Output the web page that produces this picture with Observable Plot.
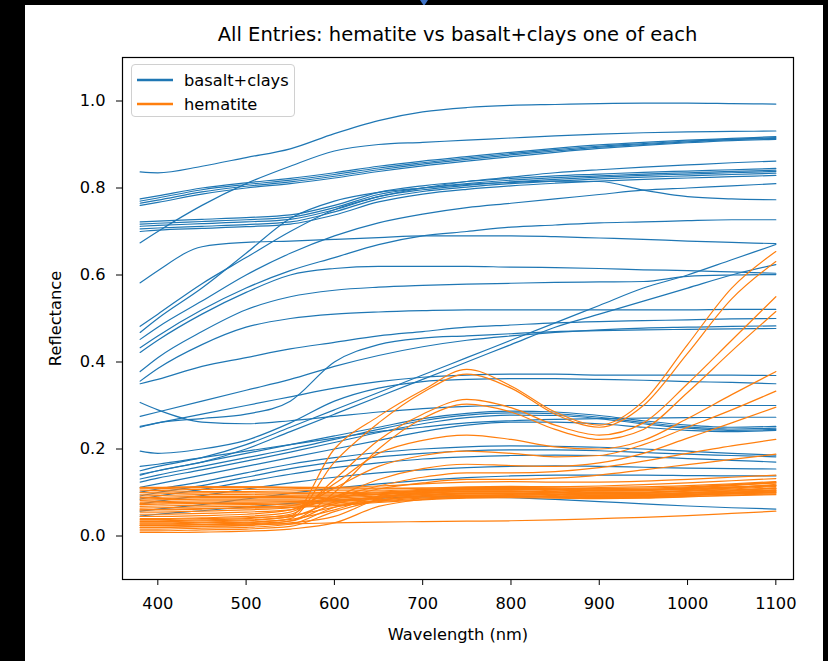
<!DOCTYPE html>
<html>
<head>
<meta charset="utf-8">
<script src="https://cdn.jsdelivr.net/npm/d3@7"></script>
<script src="https://cdn.jsdelivr.net/npm/@observablehq/plot@0.6"></script>
<style>
  html, body { margin: 0; padding: 0; background: #000; }
  body { width: 828px; height: 661px; position: relative; overflow: hidden; font-family: "DejaVu Sans", sans-serif; }
  #fig { position: absolute; left: 25px; top: 5px; width: 798px; height: 656px; background: #fff; overflow: hidden; }
  #title { position: absolute; left: 0; top: 18px; width: 865px; text-align: center; font-size: 19.5px; line-height: 24px; color: #000; }
  #chart { position: absolute; left: 0; top: 40px; }
  #legend { position: absolute; left: 106px; top: 59px; width: 164px; height: 53px; box-sizing: border-box;
            border: 1px solid #d0d0d0; border-radius: 4px; background: rgba(255,255,255,0.8); }
  .entry { position: absolute; left: 5px; height: 20px; display: flex; align-items: center; font-size: 16.25px; color: #000; white-space: nowrap; }
  .entry svg { margin-right: 11px; }
  #marker { position: absolute; left: 420px; top: 0; width: 0; height: 0;
            border-left: 4px solid transparent; border-right: 4px solid transparent; border-top: 6px solid #3f73c6; }
</style>
</head>
<body>
<div id="marker"></div>
<div id="fig">
  <div id="title">All Entries: hematite vs basalt+clays one of each</div>
  <div id="chart"></div>
  <div id="legend"></div>
</div>
<script>
// Wavelength grid (nm) shared by every spectrum
const wavelengths = [380, 400, 450, 500, 550, 600, 650, 700, 750, 800, 850, 900, 950, 1000, 1050, 1100];

// Series names and their colours
const seriesNames = ["basalt+clays", "hematite"];
const seriesColors = ["#1f77b4", "#ff7f0e"];

// Axis ticks
const xTicks = [400, 500, 600, 700, 800, 900, 1000, 1100];
const yTicks = [0.0, 0.2, 0.4, 0.6, 0.8, 1.0];

// Reflectance spectra of basalt + clay mixtures
const basaltClays = [
  [.837,.835,.850,.870,.890,.925,.955,.975,.985,.990,.992,.994,.995,.995,.994,.993],
  [.674,.700,.760,.810,.850,.885,.900,.905,.910,.915,.920,.924,.927,.929,.930,.931],
  [.775,.782,.800,.812,.822,.835,.850,.862,.872,.882,.891,.899,.905,.910,.914,.918],
  [.770,.777,.796,.808,.818,.831,.846,.858,.869,.879,.888,.896,.902,.908,.912,.916],
  [.765,.772,.791,.804,.814,.827,.842,.855,.866,.876,.885,.894,.900,.906,.911,.914],
  [.760,.767,.786,.800,.810,.823,.838,.851,.862,.872,.882,.891,.898,.904,.909,.912],
  [.722,.724,.728,.732,.738,.760,.790,.805,.815,.822,.828,.832,.836,.839,.842,.845],
  [.717,.719,.723,.727,.733,.755,.785,.800,.810,.818,.824,.828,.832,.835,.838,.841],
  [.712,.714,.718,.722,.728,.750,.780,.796,.806,.814,.820,.825,.829,.832,.835,.838],
  [.706,.708,.712,.716,.722,.745,.775,.792,.802,.810,.816,.821,.825,.828,.831,.834],
  [.700,.703,.707,.711,.717,.738,.768,.786,.797,.805,.811,.816,.820,.823,.826,.829],
  [.482,.510,.580,.640,.700,.750,.780,.800,.815,.825,.835,.842,.848,.853,.858,.862],
  [.468,.500,.570,.650,.730,.770,.790,.800,.808,.813,.816,.815,.795,.780,.775,.773],
  [.452,.480,.540,.600,.650,.690,.720,.740,.755,.765,.775,.785,.795,.800,.805,.810],
  [.433,.460,.520,.570,.610,.640,.670,.690,.700,.710,.715,.720,.722,.725,.727,.727],
  [.422,.450,.510,.560,.600,.615,.620,.620,.620,.618,.617,.615,.612,.610,.607,.604],
  [.378,.410,.470,.520,.550,.565,.572,.576,.579,.581,.583,.584,.585,.597,.600,.601],
  [.356,.385,.440,.480,.500,.510,.515,.518,.520,.520,.520,.520,.520,.520,.521,.521],
  [.582,.610,.665,.675,.678,.682,.686,.690,.690,.690,.688,.685,.682,.678,.675,.672],
  [.150,.160,.180,.210,.250,.290,.330,.370,.410,.450,.490,.530,.570,.600,.635,.670],
  [.140,.150,.170,.200,.240,.280,.320,.360,.400,.440,.480,.510,.540,.570,.600,.624],
  [.250,.260,.270,.280,.310,.400,.440,.455,.460,.465,.470,.472,.474,.475,.476,.477],
  [.252,.260,.280,.300,.320,.340,.355,.365,.370,.372,.372,.370,.370,.370,.370,.369],
  [.307,.290,.262,.258,.265,.275,.285,.293,.298,.300,.300,.300,.300,.300,.300,.300],
  [.195,.190,.200,.220,.260,.310,.340,.355,.360,.362,.362,.360,.358,.355,.353,.350],
  [.142,.150,.170,.190,.210,.230,.250,.270,.282,.287,.285,.277,.265,.255,.250,.252],
  [.131,.140,.160,.180,.200,.222,.245,.265,.278,.283,.281,.273,.261,.251,.246,.248],
  [.124,.133,.152,.172,.193,.215,.238,.258,.272,.278,.277,.270,.258,.248,.243,.245],
  [.112,.120,.140,.160,.180,.200,.220,.240,.255,.262,.262,.258,.250,.243,.240,.243],
  [.101,.108,.125,.145,.165,.180,.192,.200,.205,.207,.206,.204,.200,.195,.190,.186],
  [.092,.100,.116,.135,.155,.170,.182,.190,.196,.198,.198,.196,.192,.188,.185,.182],
  [.085,.092,.107,.125,.142,.157,.168,.177,.182,.185,.186,.185,.182,.178,.174,.170],
  [.073,.080,.093,.108,.122,.135,.145,.152,.157,.160,.161,.160,.158,.156,.155,.154],
  [.057,.062,.072,.085,.098,.110,.120,.128,.134,.138,.140,.140,.140,.139,.138,.138],
  [.046,.050,.058,.067,.075,.082,.087,.090,.090,.088,.084,.079,.074,.069,.065,.062],
  [.350,.360,.390,.410,.430,.445,.460,.470,.480,.485,.490,.493,.495,.497,.499,.500],
  [.160,.165,.180,.195,.210,.225,.240,.250,.260,.265,.268,.270,.271,.272,.273,.273],
  [.275,.285,.310,.335,.360,.390,.415,.435,.450,.460,.468,.474,.478,.480,.482,.483]
];

// Reflectance spectra of hematite samples
const hematite = [
  [.030,.030,.032,.035,.045,.200,.275,.335,.383,.345,.285,.255,.310,.440,.570,.654],
  [.025,.025,.027,.030,.040,.170,.260,.330,.372,.340,.280,.250,.300,.420,.545,.631],
  [.035,.035,.037,.040,.050,.130,.220,.280,.314,.295,.255,.232,.260,.350,.450,.550],
  [.020,.020,.022,.025,.035,.100,.200,.270,.303,.285,.245,.222,.245,.330,.425,.516],
  [.040,.040,.042,.045,.055,.120,.190,.220,.232,.222,.205,.200,.220,.270,.325,.378],
  [.045,.045,.047,.050,.060,.110,.160,.185,.195,.190,.182,.185,.210,.250,.290,.333],
  [.050,.050,.052,.055,.060,.090,.130,.155,.165,.162,.160,.168,.190,.225,.260,.296],
  [.060,.060,.062,.065,.070,.090,.115,.135,.145,.145,.148,.157,.172,.190,.207,.222],
  [.055,.055,.057,.060,.065,.085,.108,.122,.130,.130,.133,.140,.152,.164,.176,.188],
  [.112,.112,.113,.113,.112,.111,.110,.110,.111,.112,.113,.115,.118,.122,.127,.132],
  [.108,.109,.111,.111,.110,.108,.108,.110,.113,.114,.113,.112,.113,.116,.120,.125],
  [.104,.105,.107,.107,.106,.104,.104,.107,.110,.111,.110,.109,.110,.113,.118,.122],
  [.100,.101,.102,.102,.101,.100,.101,.105,.109,.110,.108,.106,.107,.109,.113,.117],
  [.096,.097,.099,.099,.098,.097,.099,.104,.108,.109,.107,.104,.105,.108,.112,.116],
  [.092,.093,.095,.095,.094,.094,.097,.103,.107,.108,.106,.103,.104,.107,.111,.119],
  [.088,.089,.091,.091,.091,.092,.096,.102,.106,.107,.104,.101,.101,.103,.106,.110],
  [.085,.086,.088,.088,.088,.090,.095,.100,.104,.104,.101,.098,.098,.100,.103,.106],
  [.082,.083,.085,.085,.085,.087,.092,.098,.102,.102,.099,.096,.096,.098,.101,.104],
  [.078,.079,.081,.081,.081,.084,.089,.095,.099,.099,.097,.094,.094,.096,.099,.102],
  [.075,.076,.078,.078,.079,.082,.087,.093,.097,.097,.095,.092,.093,.095,.098,.100],
  [.072,.073,.075,.075,.076,.079,.084,.090,.094,.095,.093,.091,.092,.094,.097,.099],
  [.068,.069,.071,.072,.073,.076,.081,.087,.091,.092,.091,.089,.090,.093,.097,.101],
  [.064,.065,.067,.068,.069,.073,.079,.085,.089,.090,.089,.087,.088,.091,.094,.097],
  [.060,.061,.063,.064,.066,.070,.077,.083,.087,.088,.087,.086,.087,.090,.093,.095],
  [.110,.111,.113,.113,.112,.112,.115,.120,.124,.125,.124,.124,.126,.130,.135,.140],
  [.008,.008,.009,.011,.016,.030,.068,.084,.090,.091,.090,.089,.090,.094,.099,.104],
  [.012,.012,.014,.016,.022,.056,.082,.092,.097,.098,.096,.094,.095,.099,.104,.110],
  [.016,.016,.018,.020,.027,.066,.088,.098,.103,.104,.102,.100,.101,.105,.110,.116],
  [.020,.020,.022,.024,.030,.045,.085,.101,.108,.109,.107,.105,.106,.110,.116,.122],
  [.024,.024,.026,.028,.034,.074,.091,.098,.102,.102,.100,.098,.099,.103,.108,.114],
  [.028,.028,.030,.032,.038,.060,.092,.105,.110,.111,.108,.106,.107,.111,.117,.124],
  [.033,.033,.035,.037,.044,.078,.089,.095,.098,.098,.096,.094,.095,.099,.104,.110],
  [.038,.038,.040,.042,.047,.066,.082,.090,.093,.093,.091,.090,.091,.095,.100,.106],
  [.025,.025,.026,.027,.028,.030,.032,.033,.034,.035,.037,.040,.043,.047,.052,.057]
];

// Long-form table: one row per (spectrum, wavelength)
const rows = [];
[[seriesNames[0], basaltClays], [seriesNames[1], hematite]].forEach(([name, spectra]) => {
  spectra.forEach((values, i) => {
    values.forEach((v, j) => {
      rows.push({mineral: name, spectrum: name + "-" + i, wavelength: wavelengths[j], reflectance: v});
    });
  });
});

const chart = Plot.plot({
  width: 798,
  height: 616,
  marginLeft: 97,
  marginRight: 30,
  marginTop: 12,
  marginBottom: 82,
  style: {fontFamily: "DejaVu Sans", fontSize: "16.25px", color: "#000", background: "transparent"},
  x: {domain: [360, 1120]},
  y: {domain: [-0.1, 1.1]},
  color: {domain: seriesNames, range: seriesColors},
  marks: [
    Plot.line(rows, {
      x: "wavelength", y: "reflectance", z: "spectrum", stroke: "mineral",
      strokeWidth: 1.2, curve: "monotone-x"
    }),
    Plot.frame({stroke: "#000", strokeWidth: 1.2}),
    Plot.axisX({
      ticks: xTicks, tickSize: 6, tickPadding: 12, tickFormat: d3.format("d"),
      label: "Wavelength (nm)", labelAnchor: "center", labelArrow: "none", labelOffset: 60
    }),
    Plot.axisY({
      ticks: yTicks, tickSize: 6, tickPadding: 11, tickFormat: d3.format(".1f"),
      label: "Reflectance", labelAnchor: "center", labelArrow: "none", labelOffset: 73
    })
  ]
});
document.getElementById("chart").appendChild(chart);

// Legend built from the same names and colours as the colour scale
const legend = document.getElementById("legend");
seriesNames.forEach((name, i) => {
  const row = document.createElement("div");
  row.className = "entry";
  row.style.top = (5 + i * 24) + "px";
  const sw = d3.create("svg").attr("width", 36).attr("height", 6);
  sw.append("line").attr("x1", 0).attr("x2", 36).attr("y1", 3).attr("y2", 3)
    .attr("stroke", seriesColors[i]).attr("stroke-width", 2.6);
  const label = document.createElement("span");
  label.textContent = name;
  row.appendChild(sw.node());
  row.appendChild(label);
  legend.appendChild(row);
});
</script>
</body>
</html>
